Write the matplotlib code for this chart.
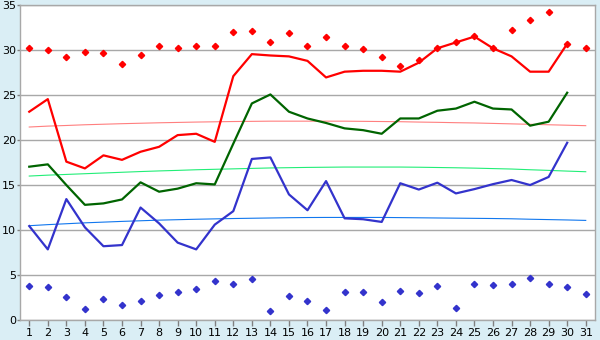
import numpy as np
import matplotlib
matplotlib.use('Agg')
import matplotlib.pyplot as plt

#=========================#
#  data                   #
#=========================#
days = list(range(1, 32))

max_pts = [30.2, 30.0, 29.2, 29.8, 29.7, 28.4, 29.4, 30.4, 30.2, 30.4,
           30.4, 32.0, 32.1, 30.9, 31.9, 30.5, 31.5, 30.4, 30.1, 29.2,
           28.2, 28.9, 30.2, 30.9, 31.6, 30.2, 32.2, 33.3, 34.2, 30.7, 30.2]

min_pts = [3.78, 3.63, 2.52, 1.19, 2.3, 1.63, 2.07, 2.74, 3.07, 3.44,
           4.3, 3.96, 4.52, 0.96, 2.63, 2.07, 1.07, 3.07, 3.07, 1.96,
           3.19, 2.96, 3.74, 1.3, 3.96, 3.85, 3.96, 4.63, 3.96, 3.63, 2.85]

red_line = [23.15, 24.55, 17.6, 16.85, 18.3, 17.8, 18.7, 19.25, 20.55, 20.7,
            19.8, 27.1, 29.55, 29.4, 29.3, 28.8, 26.96, 27.6, 27.7, 27.7,
            27.6, 28.6, 30.2, 30.85, 31.5, 30.2, 29.3, 27.6, 27.6, 30.7]

green_line = [17.04, 17.3, 15.0, 12.8, 12.96, 13.4, 15.3, 14.26, 14.6, 15.2,
              15.07, 19.6, 24.07, 25.07, 23.15, 22.4, 21.9, 21.3, 21.1, 20.7,
              22.4, 22.4, 23.26, 23.5, 24.26, 23.5, 23.4, 21.6, 22.04, 25.26]

blue_line = [10.44, 7.85, 13.44, 10.3, 8.2, 8.33, 12.5, 10.74, 8.6, 7.85,
             10.6, 12.1, 17.9, 18.07, 13.96, 12.2, 15.44, 11.3, 11.2, 10.9,
             15.2, 14.5, 15.26, 14.07, 14.55, 15.1, 15.56, 15.0, 15.9, 19.7]

red_norm = [21.45, 21.55, 21.62, 21.7, 21.76, 21.82, 21.87, 21.92, 21.96, 22.0,
            22.03, 22.06, 22.08, 22.1, 22.1, 22.1, 22.1, 22.1, 22.08, 22.06,
            22.04, 22.0, 21.97, 21.93, 21.9, 21.85, 21.8, 21.75, 21.7, 21.65, 21.6]

green_norm = [16.0, 16.1, 16.18, 16.26, 16.34, 16.42, 16.5, 16.57, 16.63, 16.7,
              16.75, 16.8, 16.85, 16.9, 16.93, 16.96, 16.98, 17.0, 17.0, 17.0,
              17.0, 16.98, 16.95, 16.92, 16.88, 16.83, 16.78, 16.7, 16.63, 16.55, 16.48]

blue_norm = [10.48, 10.6, 10.7, 10.8, 10.88, 10.96, 11.03, 11.1, 11.15, 11.2,
             11.24, 11.28, 11.31, 11.34, 11.37, 11.39, 11.4, 11.4, 11.4, 11.4,
             11.38, 11.36, 11.34, 11.32, 11.3, 11.28, 11.25, 11.2, 11.16, 11.12, 11.07]

#=========================#
#  figure                 #
#=========================#
fig = plt.figure(figsize=(6.0, 3.4), dpi=100, facecolor='#daeef5')
plt.subplots_adjust(left=0.0333, right=0.9917, bottom=0.0588, top=0.985)
ax = fig.add_subplot(111, facecolor='white')

# normals
ax.plot(days, red_norm, c='#ff7f7f', lw=0.8)
ax.plot(days, green_norm, c='#22ee77', lw=0.8)
ax.plot(days, blue_norm, c='#1177ee', lw=0.8)

# daily lines
n = len(red_line)
ax.plot(days[:n], red_line, c='#ff0000', lw=1.6)
ax.plot(days[:n], green_line, c='#006400', lw=1.6)
ax.plot(days[:n], blue_line, c='#3333cc', lw=1.6)

# extremes
ax.plot(days, max_pts, ls='none', marker='D', ms=3.2, mfc='#ff0000', mec='#ff0000')
ax.plot(days, min_pts, ls='none', marker='D', ms=3.2, mfc='#3333cc', mec='#3333cc')

# lim
ax.set_xlim(0.5, 31.5)
ax.set_ylim(0, 35)

# ticks
ax.set_xticks(days)
ax.set_yticks(np.arange(0, 36, 5))
ax.tick_params(axis='x', direction='out', length=4, width=1, labelsize=8, pad=2, color='#808080')
ax.tick_params(axis='y', direction='out', length=2, width=1, labelsize=8, pad=1, color='#808080')

# grid
ax.grid(axis='y', color='#a8a8a8', linewidth=1.0)
ax.set_axisbelow(True)

for s in ax.spines.values():
    s.set_color('#a8a8a8')
    s.set_linewidth(1.0)

fig.savefig('out.png', dpi=100, facecolor=fig.get_facecolor())
plt.close()
